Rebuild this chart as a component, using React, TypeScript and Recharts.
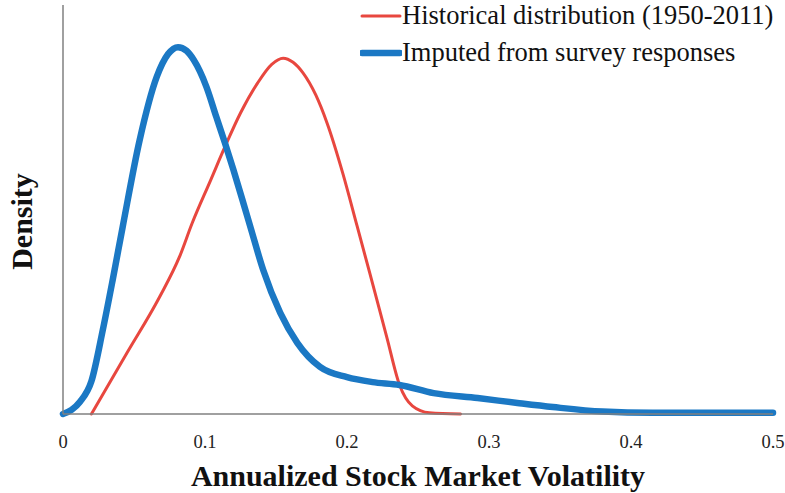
import { LineChart, Line, XAxis, YAxis } from 'recharts';

// volatility grid and density for each curve
const historicalX = [0.02, 0.045, 0.068, 0.082, 0.091, 0.104, 0.114, 0.125, 0.137, 0.147, 0.155, 0.162, 0.169, 0.178, 0.186, 0.197, 0.207, 0.216, 0.228, 0.237, 0.246, 0.258, 0.28];
const historicalDensity = [0, 1.49, 2.86, 3.84, 4.67, 5.72, 6.53, 7.36, 8.09, 8.55, 8.7, 8.6, 8.34, 7.8, 7.11, 5.89, 4.61, 3.45, 1.88, 0.71, 0.2, 0.03, 0];

const imputedX = [0, 0.006, 0.012, 0.02, 0.028, 0.035, 0.042, 0.054, 0.066, 0.074, 0.081, 0.087, 0.092, 0.101, 0.108, 0.114, 0.12, 0.127, 0.132, 0.141, 0.153, 0.165, 0.181, 0.2, 0.218, 0.237, 0.261, 0.292, 0.32, 0.345, 0.38, 0.415, 0.45, 0.5];
const imputedDensity = [0, 0.1, 0.3, 0.8, 2.05, 3.28, 4.57, 6.7, 8.24, 8.8, 8.97, 8.88, 8.66, 8.0, 7.26, 6.63, 5.97, 5.16, 4.57, 3.52, 2.47, 1.74, 1.15, 0.9, 0.78, 0.71, 0.51, 0.39, 0.27, 0.17, 0.06, 0.03, 0.03, 0.03];

const xTicks = [0, 0.1, 0.2, 0.3, 0.4, 0.5];

const SERIF = '"Liberation Serif", "Times New Roman", serif';

const series = [
  { name: 'Historical distribution (1950-2011)', color: '#E8473F', width: 3, xs: historicalX, ys: historicalDensity },
  { name: 'Imputed from survey responses', color: '#1B78C4', width: 6.5, xs: imputedX, ys: imputedDensity },
];

const toPoints = (xs: number[], ys: number[]) => xs.map((x, i) => ({ x, density: ys[i] }));

// legend sits over the top-right corner of the plot
const LegendBox = () => (
  <div style={{ position: 'absolute', left: 360, top: -3, fontFamily: SERIF, fontSize: 26.5, color: '#111' }}>
    {series.map((s) => (
      <div key={s.name} style={{ display: 'flex', alignItems: 'center', height: 37 }}>
        <svg width={42} height={10} style={{ flex: 'none' }}>
          <line x1={2} y1={5} x2={40} y2={5} stroke={s.color} strokeWidth={s.width} strokeLinecap="round" />
        </svg>
        <span style={{ whiteSpace: 'nowrap' }}>{s.name}</span>
      </div>
    ))}
  </div>
);

const YTitle = (props: any) => {
  const { viewBox } = props;
  const cx = viewBox.x + 21;
  const cy = viewBox.y + viewBox.height / 2 + 12;
  return (
    <text
      x={cx}
      y={cy}
      transform={`rotate(-90 ${cx} ${cy})`}
      textAnchor="middle"
      dominantBaseline="central"
      fontFamily={SERIF}
      fontWeight="bold"
      fontSize={30}
      fill="#111"
    >
      Density
    </text>
  );
};

export default function App() {
  return (
    <div style={{ position: 'absolute', left: 0, top: 0, width: 785, height: 493, background: '#fff' }}>
      <LineChart width={785} height={493} margin={{ top: 5, right: 12, bottom: 0, left: 0 }}>
        <XAxis
          type="number"
          dataKey="x"
          domain={[0, 0.5]}
          ticks={xTicks}
          allowDuplicatedCategory={false}
          height={79}
          tickLine={false}
          tickSize={0}
          tickMargin={21}
          axisLine={{ stroke: '#808080', strokeWidth: 1.5 }}
          tick={{ fontFamily: SERIF, fontSize: 18.5, fill: '#222' }}
          label={{
            value: 'Annualized Stock Market Volatility',
            position: 'insideBottom',
            offset: 7,
            style: { fontFamily: SERIF, fontWeight: 'bold', fontSize: 30, fill: '#111' },
          }}
        />
        <YAxis
          type="number"
          domain={[0, 10]}
          width={63}
          tick={false}
          tickLine={false}
          axisLine={{ stroke: '#808080', strokeWidth: 1.5 }}
          label={<YTitle />}
        />
        {series.map((s) => (
          <Line
            key={s.name}
            name={s.name}
            data={toPoints(s.xs, s.ys)}
            dataKey="density"
            type="monotone"
            stroke={s.color}
            strokeWidth={s.width}
            strokeLinecap="round"
            dot={false}
            activeDot={false}
            isAnimationActive={false}
          />
        ))}
      </LineChart>
      <LegendBox />
    </div>
  );
}
